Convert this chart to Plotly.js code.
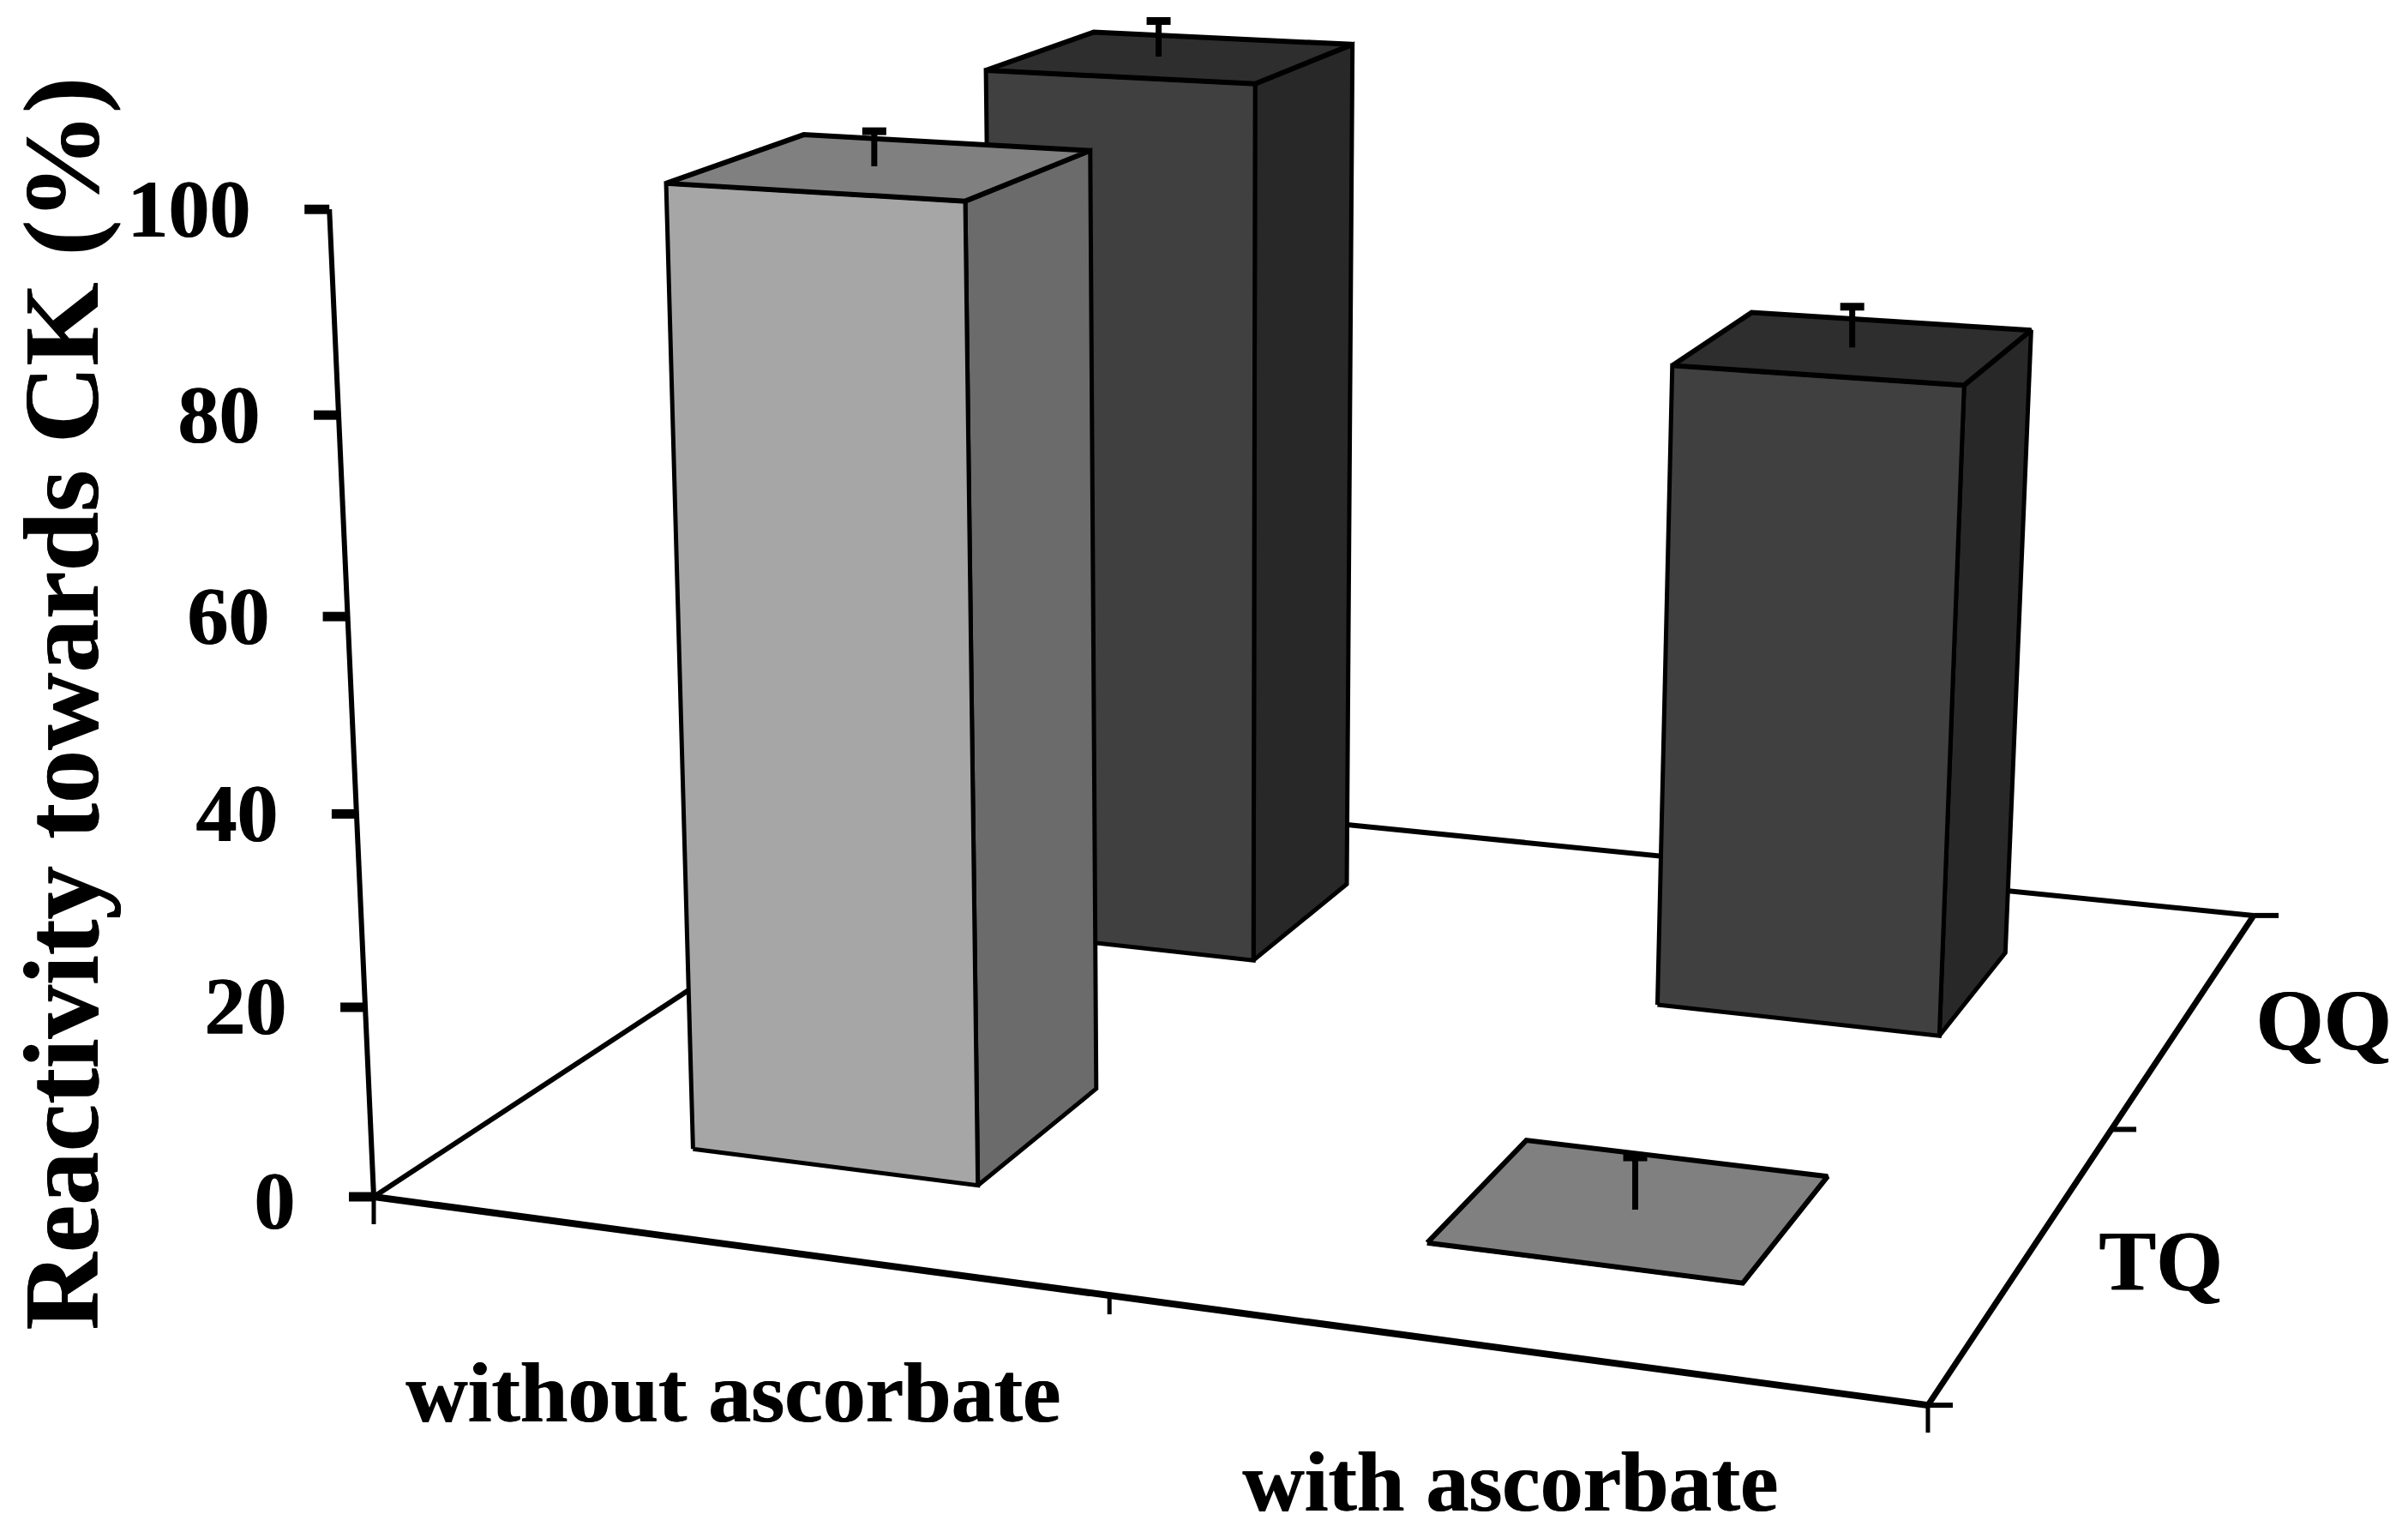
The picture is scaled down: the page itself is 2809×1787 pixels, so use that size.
<!DOCTYPE html>
<html>
<head>
<meta charset="utf-8">
<script src="https://cdn.plot.ly/plotly-3.0.1.min.js"></script>
<style>html,body{margin:0;padding:0;background:#fff}#chart{width:2809px;height:1787px}</style>
</head>
<body>
<div id="chart"></div>
<script>
// ---- data ----
const categories = ['without ascorbate', 'with ascorbate'];
const series = ['TQ', 'QQ'];
const tqValues = [100, 0];
const qqValues = [100, 72];
const tqErrors = [3.5, 5.5];
const qqErrors = [4, 4.5];
const valueTicks = [0, 20, 40, 60, 80, 100];
const yAxisTitle = 'Reactivity towards CK (%)';

// ---- perspective camera: (u along categories, v along series, z = value/100) ----
const cam = {a:1585.6,b:1026,p:-71,c:436, d:77.4,e:-235.5,q:-1164,f:1396, g:-0.1011,h:0.2603,r:-0.05};
function proj(u, v, val) {
  const z = val / 100;
  const w = cam.g*u + cam.h*v + cam.r*z + 1;
  return [(cam.a*u + cam.b*v + cam.p*z + cam.c)/w, (cam.d*u + cam.e*v + cam.q*z + cam.f)/w];
}
const halfBar = 0.1;
const catCentre = i => (i + 0.5) / categories.length;
const serCentre = j => (j + 0.5) / series.length;
// the error bars sit slightly off the bar centre in the original: [category][series]
const errAnchorU = [[-0.005, -0.01], [0.003, -0.0015]];

const colours = {
  TQ: {front:'#a6a6a6', side:'#6b6b6b', top:'#808080'},
  QQ: {front:'#404040', side:'#282828', top:'#2e2e2e'}
};

const traces = [];
function poly(pts, fill, width) {
  const closed = pts.concat([pts[0]]);
  traces.push({type:'scatter', mode:'lines', x:closed.map(p=>p[0]), y:closed.map(p=>p[1]),
    fill:'toself', fillcolor:fill, line:{color:'#000', width:width}, hoverinfo:'skip', showlegend:false});
}
function line(pts, width) {
  traces.push({type:'scatter', mode:'lines', x:pts.map(p=>p[0]), y:pts.map(p=>p[1]),
    line:{color:'#000', width:width}, hoverinfo:'skip', showlegend:false});
}

// floor edges
line([proj(0,0,0), proj(1,0,0)], 8);
line([proj(1,0,0), proj(1,1,0)], 7);
line([proj(1,1,0), proj(0,1,0)], 6);
line([proj(0,1,0), proj(0,0,0)], 6);
// value axis
line([proj(0,0,0), proj(0,0,100)], 6);
const annotations = [];
const serif = 'Liberation Serif';
function label(text, x, y, size, anchor, rot) {
  annotations.push({text:text, x:x, y:y, xref:'x', yref:'y', showarrow:false, xanchor:anchor, yanchor:'middle',
    textangle:rot||0, font:{family:serif, size:size, color:'#000', weight:700, shadow:'1px 0 0 #000'}});
}
valueTicks.forEach(t => {
  const p = proj(0,0,t);
  line([[p[0]-29,p[1]], p], 11);
  label(String(t), p[0]-90, p[1]+(t === 0 ? 4 : -1), 96, 'right');
});
// category ticks
[[0,32],[0.5,22],[1,32]].forEach(([u,len]) => { const p = proj(u,0,0); line([p,[p[0],p[1]+len]], 5); });
[0,0.5,1].forEach(v => { const p = proj(1,v,0); line([p,[p[0]+29,p[1]]], 6); });

function bar(i, j, val, err) {
  const c = colours[series[j]];
  const u0 = catCentre(i)-halfBar, u1 = catCentre(i)+halfBar;
  const v0 = serCentre(j)-halfBar, v1 = serCentre(j)+halfBar;
  poly([proj(u1,v0,0), proj(u1,v1,0), proj(u1,v1,val), proj(u1,v0,val)], c.side, 5);
  poly([proj(u0,v0,0), proj(u1,v0,0), proj(u1,v0,val), proj(u0,v0,val)], c.front, 5);
  poly([proj(u0,v0,val), proj(u1,v0,val), proj(u1,v1,val), proj(u0,v1,val)], c.top, 6);
  const uc = catCentre(i) + errAnchorU[i][j], vc = serCentre(j);
  const base = proj(uc,vc,val), tip = proj(uc,vc,val+err);
  line([base, [base[0], tip[1]]], 7);
  line([[base[0]-14,tip[1]],[base[0]+14,tip[1]]], 9);
}
// back row first, then front row
bar(0,1,qqValues[0],qqErrors[0]);
bar(1,1,qqValues[1],qqErrors[1]);
bar(0,0,tqValues[0],tqErrors[0]);
bar(1,0,tqValues[1],tqErrors[1]);

label(categories[0], 855, 1624, 100, 'center');
label(categories[1], 1761, 1728, 100, 'center');
label(series[1], 2710, 1190, 102, 'center');
label(series[0], 2520, 1470, 100, 'center');
label(yAxisTitle, 72, 821, 125, 'center', -90);

const layout = {
  width:2809, height:1787, margin:{l:0,r:0,t:0,b:0}, paper_bgcolor:'#fff', plot_bgcolor:'#fff', showlegend:false,
  xaxis:{range:[0,2809], visible:false, fixedrange:true},
  yaxis:{range:[1787,0], visible:false, fixedrange:true},
  annotations:annotations
};
Plotly.newPlot('chart', traces, layout, {displayModeBar:false, staticPlot:true});
</script>
</body>
</html>
